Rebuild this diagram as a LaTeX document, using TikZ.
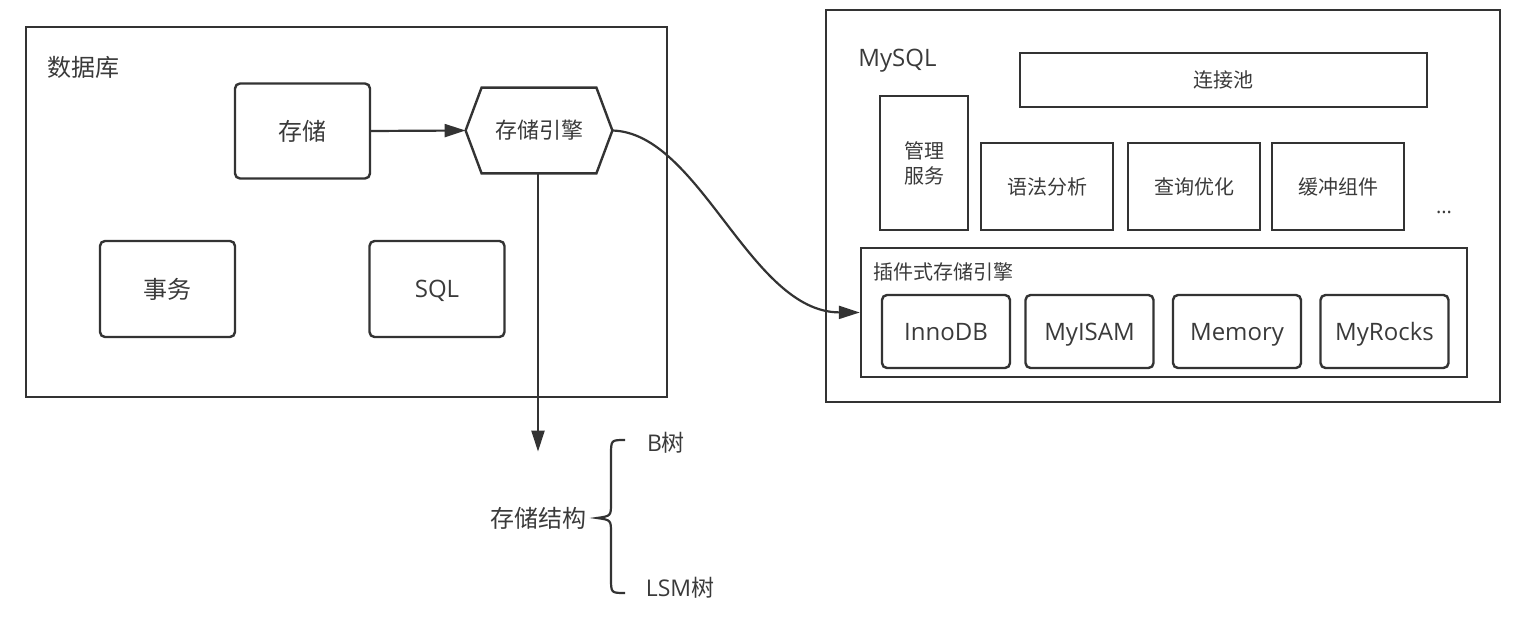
\documentclass[tikz,border=0pt]{standalone}
\usepackage{fontspec}
\setmainfont{Open Sans}
\newfontfamily\cjk{Noto Sans CJK SC}
\usetikzlibrary{arrows.meta}
\definecolor{ink}{HTML}{333333}
\definecolor{txt}{HTML}{3A3A3A}
\begin{document}
\begin{tikzpicture}[x=0.5pt,y=-0.5pt,
  every node/.style={text=txt, inner sep=0pt},
  frame/.style={draw=ink, line width=1.4pt},
  rbox/.style={draw=ink, line width=1.2pt, rounded corners=2.5pt},
  sbox/.style={draw=ink, line width=1.2pt},
  arr/.style={draw=ink, line width=1.1pt, -{Triangle[length=10.5pt,width=6.5pt]}},
  zhL/.style={font=\cjk\fontsize{12pt}{14pt}\selectfont},
  zhM/.style={font=\cjk\fontsize{11pt}{13pt}\selectfont},
  zhS/.style={font=\cjk\fontsize{10pt}{12.5pt}\selectfont},
  la/.style={font=\fontsize{12pt}{14pt}\selectfont, text depth=0pt},
  lb/.style={font=\fontsize{11.5pt}{14pt}\selectfont}]
\useasboundingbox (0,0) rectangle (1516,624);

% ---------- left: database ----------
\node[frame, minimum width=320.5pt, minimum height=185pt] (db) at (346.5,212) {};
\node[zhL, anchor=west] (dbl) at (47,67) {数据库};
\node[rbox, zhL, minimum width=67.5pt, minimum height=47.5pt] (cc) at (302.5,131) {存储};
\node[zhM, minimum width=73pt, minimum height=42.5pt] (eng) at (539,130.5) {存储引擎};
\draw[sbox] (eng.west) -- ([xshift=8pt]eng.north west) -- ([xshift=-8pt]eng.north east)
  -- (eng.east) -- ([xshift=-8pt]eng.south east) -- ([xshift=8pt]eng.south west) -- cycle;
\node[rbox, zhL, minimum width=67.5pt, minimum height=48pt] (sw) at (167.5,289) {事务};
\node[rbox, la, minimum width=67.5pt, minimum height=48pt] (sql) at (437,289) {SQL};

\draw[arr] (cc.east) -- (eng.west);

% ---------- storage structure ----------
\node[zhL, minimum height=66pt] (jg) at (538,518) {存储结构};
\draw[arr] (eng.south -| jg.north) -- (jg.north);
\draw[ink, line width=1.1pt] (625,440) .. controls (611,440) .. (611,455) -- (611,503)
  .. controls (611,516) .. (597,518) .. controls (611,520) .. (611,533) -- (611,578)
  .. controls (611,593) .. (625,593);
\node[lb] (bt) at (666,443) {B{\cjk 树}};
\node[lb] (lsm) at (680,588) {LSM{\cjk 树}};

% ---------- right: MySQL ----------
\node[frame, minimum width=337pt, minimum height=196pt] (my) at (1163,206) {};
\node[la, anchor=west] (myl) at (858,58) {MySQL};
\node[sbox, zhS, minimum width=203.5pt, minimum height=27pt] (pool) at (1223.5,80) {连接池};
\node[sbox, zhS, minimum width=44pt, minimum height=67pt, align=center] (mg) at (924,163) {管理\\服务};
\node[sbox, zhS, minimum width=66pt, minimum height=43.5pt] (yf) at (1047,186.5) {语法分析};
\node[sbox, zhS, minimum width=66pt, minimum height=43.5pt] (cx) at (1194,186.5) {查询优化};
\node[sbox, zhS, minimum width=66pt, minimum height=43.5pt] (hc) at (1338,186.5) {缓冲组件};
\node[font=\fontsize{10pt}{12pt}\selectfont] (dots) at (1444,212) {...};

\node[sbox, minimum width=303pt, minimum height=64.5pt] (plug) at (1164,312.5) {};
\node[zhS, anchor=west] (plugl) at (873,272) {插件式存储引擎};
\node[rbox, la, minimum width=64pt, minimum height=36.5pt] (inno) at (946,331.5) {InnoDB};
\node[rbox, la, minimum width=64pt, minimum height=36.5pt] (myi) at (1089.5,331.5) {MyISAM};
\node[rbox, la, minimum width=64pt, minimum height=36.5pt] (mem) at (1237,331.5) {Memory};
\node[rbox, la, minimum width=64pt, minimum height=36.5pt] (myr) at (1384.5,331.5) {MyRocks};

\draw[arr] (eng.east) .. controls (700,133) and (750,312) .. (plug.west);
\end{tikzpicture}
\end{document}
